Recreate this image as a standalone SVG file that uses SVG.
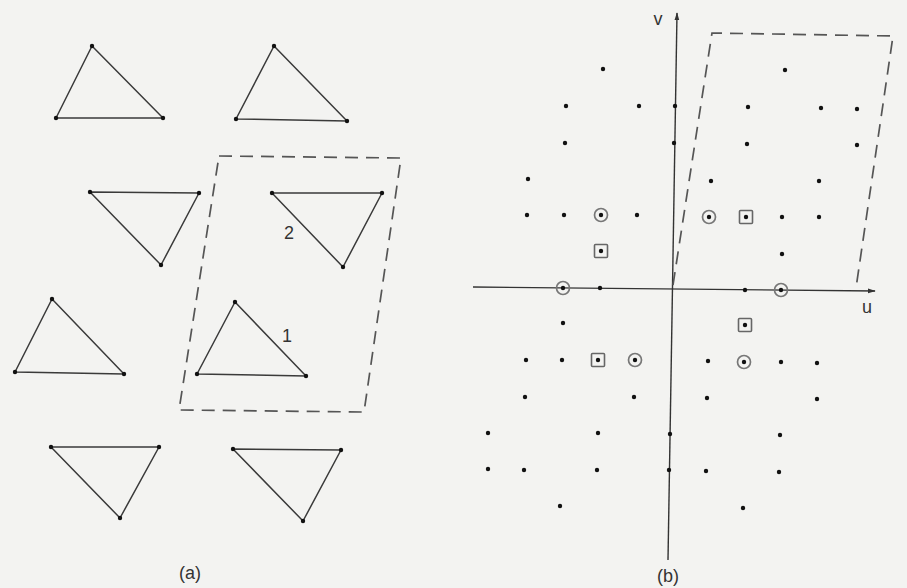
<svg xmlns="http://www.w3.org/2000/svg" width="907" height="588" viewBox="0 0 907 588">
<defs>
<style>
.tri{fill:none;stroke:#3a3a3a;stroke-width:1.5;stroke-linejoin:round}
.v{fill:#111}
.dash{fill:none;stroke:#555;stroke-width:1.7;stroke-dasharray:13 8}
.ax{fill:none;stroke:#333;stroke-width:1.4}
.d{fill:#111}
.c{fill:none;stroke:#777;stroke-width:1.7}
.s{fill:none;stroke:#666;stroke-width:1.6}
.t{font-family:"Liberation Sans",Arial,sans-serif;font-size:18px;fill:#333}
</style>
<marker id="ah" viewBox="0 0 10 10" refX="9" refY="5" markerWidth="8" markerHeight="8" orient="auto" markerUnits="userSpaceOnUse">
<path d="M0,2 L10,5 L0,8 z" fill="#333"/>
</marker>
<circle id="dot" r="2.2" class="d"/>
</defs>
<rect width="907" height="588" fill="#f3f3f1"/>

<g id="panel-a">
<g id="triA"><polygon class="tri" points="92,46 56,118 163,118"/><circle class="v" cx="92" cy="46" r="2.2"/><circle class="v" cx="56" cy="118" r="2.2"/><circle class="v" cx="163" cy="118" r="2.2"/></g>
<g id="triB"><polygon class="tri" points="274,46 236,119 347,121"/><circle class="v" cx="274" cy="46" r="2.2"/><circle class="v" cx="236" cy="119" r="2.2"/><circle class="v" cx="347" cy="121" r="2.2"/></g>
<g id="triC"><polygon class="tri" points="90,192 199,193 161,265"/><circle class="v" cx="90" cy="192" r="2.2"/><circle class="v" cx="199" cy="193" r="2.2"/><circle class="v" cx="161" cy="265" r="2.2"/></g>
<g id="triD"><polygon class="tri" points="272,193 382,193 343,267"/><circle class="v" cx="272" cy="193" r="2.2"/><circle class="v" cx="382" cy="193" r="2.2"/><circle class="v" cx="343" cy="267" r="2.2"/></g>
<g id="triE"><polygon class="tri" points="52,299 15,372 124,374"/><circle class="v" cx="52" cy="299" r="2.2"/><circle class="v" cx="15" cy="372" r="2.2"/><circle class="v" cx="124" cy="374" r="2.2"/></g>
<g id="triF"><polygon class="tri" points="235,302 197,374 306,376"/><circle class="v" cx="235" cy="302" r="2.2"/><circle class="v" cx="197" cy="374" r="2.2"/><circle class="v" cx="306" cy="376" r="2.2"/></g>
<g id="triG"><polygon class="tri" points="51,447 159,447 120,518"/><circle class="v" cx="51" cy="447" r="2.2"/><circle class="v" cx="159" cy="447" r="2.2"/><circle class="v" cx="120" cy="518" r="2.2"/></g>
<g id="triH"><polygon class="tri" points="233,449 341,450 303,521"/><circle class="v" cx="233" cy="449" r="2.2"/><circle class="v" cx="341" cy="450" r="2.2"/><circle class="v" cx="303" cy="521" r="2.2"/></g>
<g id="cellA"><polygon class="dash" points="219,156 401,158 364,412 179,410"/></g>
<text class="t" x="289" y="239" text-anchor="middle">2</text>
<text class="t" x="287" y="342" text-anchor="middle">1</text>
<text class="t" x="190" y="579" text-anchor="middle">(a)</text>
</g>

<g id="connectors">
<line class="ax" x1="668" y1="560" x2="677" y2="13" marker-end="url(#ah)"/>
<line class="ax" x1="473" y1="287" x2="875" y2="291" marker-end="url(#ah)"/>
</g>

<g id="panel-b">
<g id="cellB"><polyline class="dash" points="673,285 712,33 893,36 856,288"/></g>
<text class="t" x="658" y="25" text-anchor="middle">v</text>
<text class="t" x="867" y="313" text-anchor="middle">u</text>
<text class="t" x="668" y="582" text-anchor="middle">(b)</text>
<g id="markers">
<circle class="c" cx="601" cy="215" r="6.5"/>
<circle class="c" cx="709" cy="217" r="6.5"/>
<circle class="c" cx="563" cy="288" r="6.5"/>
<circle class="c" cx="781" cy="290" r="6.5"/>
<circle class="c" cx="635" cy="360" r="6.5"/>
<circle class="c" cx="744" cy="362" r="6.5"/>
<rect class="s" x="739.5" y="210.5" width="13" height="13" rx="1"/>
<rect class="s" x="594.5" y="244.5" width="13" height="13" rx="1"/>
<rect class="s" x="738.5" y="318.5" width="13" height="13" rx="1"/>
<rect class="s" x="591.5" y="353.5" width="13" height="13" rx="1"/>
</g>
<g id="dots">
<use href="#dot" x="603" y="69"/><use href="#dot" x="785" y="70"/>
<use href="#dot" x="566" y="106"/><use href="#dot" x="639" y="106"/><use href="#dot" x="675" y="106"/><use href="#dot" x="748" y="107"/><use href="#dot" x="821" y="108"/><use href="#dot" x="857" y="109"/>
<use href="#dot" x="565" y="143"/><use href="#dot" x="674" y="143"/><use href="#dot" x="747" y="144"/><use href="#dot" x="857" y="145"/>
<use href="#dot" x="528" y="179"/><use href="#dot" x="711" y="181"/><use href="#dot" x="819" y="181"/>
<use href="#dot" x="527" y="215"/><use href="#dot" x="564" y="215"/><use href="#dot" x="601" y="215"/><use href="#dot" x="637" y="215"/><use href="#dot" x="709" y="217"/><use href="#dot" x="746" y="217"/><use href="#dot" x="782" y="217"/><use href="#dot" x="819" y="217"/>
<use href="#dot" x="601" y="251"/><use href="#dot" x="782" y="254"/>
<use href="#dot" x="563" y="288"/><use href="#dot" x="600" y="288"/><use href="#dot" x="745" y="290"/><use href="#dot" x="781" y="290"/>
<use href="#dot" x="563" y="323"/><use href="#dot" x="745" y="325"/>
<use href="#dot" x="526" y="360"/><use href="#dot" x="562" y="360"/><use href="#dot" x="598" y="360"/><use href="#dot" x="635" y="360"/><use href="#dot" x="708" y="361"/><use href="#dot" x="744" y="362"/><use href="#dot" x="781" y="362"/><use href="#dot" x="817" y="363"/>
<use href="#dot" x="525" y="397"/><use href="#dot" x="634" y="397"/><use href="#dot" x="707" y="398"/><use href="#dot" x="817" y="399"/>
<use href="#dot" x="488" y="433"/><use href="#dot" x="598" y="433"/><use href="#dot" x="670" y="434"/><use href="#dot" x="780" y="435"/>
<use href="#dot" x="488" y="469"/><use href="#dot" x="524" y="470"/><use href="#dot" x="597" y="470"/><use href="#dot" x="669" y="470"/><use href="#dot" x="706" y="471"/><use href="#dot" x="779" y="472"/>
<use href="#dot" x="560" y="506"/><use href="#dot" x="743" y="508"/>
</g>
</g>
</svg>
